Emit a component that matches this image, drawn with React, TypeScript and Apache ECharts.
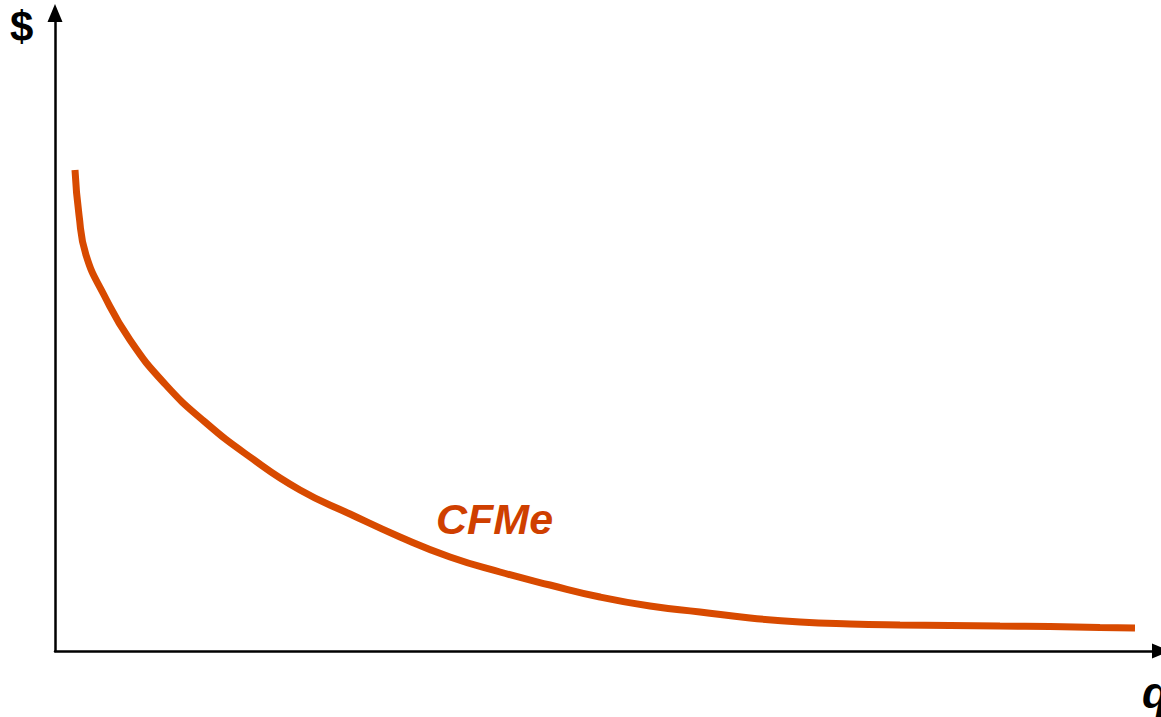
import React, { useEffect, useRef } from "react";
import * as echarts from "echarts";

// Quantity (q) positions and average fixed cost (CFMe) values
const qValues = [20, 24, 31, 49, 75, 110, 150, 195, 245, 295, 345, 395, 445, 495, 545, 595, 645, 695, 745, 795, 845, 895, 945, 995, 1045, 1080];
const cfmeValues = [481, 436, 396, 356, 311, 267, 229, 194, 161, 137, 114, 94, 79, 66, 54, 45, 39, 33, 29, 27, 26, 25.5, 25, 24.5, 23.5, 23];
const seriesName = "CFMe";
const yAxisLabel = "$";
const xAxisLabel = "q";

export default function App() {
  const ref = useRef<HTMLDivElement>(null);
  useEffect(() => {
    document.body.style.margin = "0";
    const chart = echarts.init(ref.current!, null, { renderer: "svg" });
    const curveColor = "#D84A00";
    const axisLine = {
      show: true,
      lineStyle: { color: "#000", width: 2.5 },
      symbol: ["none", "triangle"],
      symbolSize: [15, 18],
    };
    chart.setOption({
      animation: false,
      grid: { left: 55, right: 0, top: 13, bottom: 66 },
      xAxis: {
        type: "value",
        min: 0,
        max: 1106,
        axisLine,
        axisTick: { show: false },
        axisLabel: { show: false },
        splitLine: { show: false },
      },
      yAxis: {
        type: "value",
        min: 0,
        max: 638,
        axisLine,
        axisTick: { show: false },
        axisLabel: { show: false },
        splitLine: { show: false },
      },
      series: [
        {
          name: seriesName,
          type: "line",
          smooth: true,
          showSymbol: false,
          data: qValues.map((q, i) => [q, cfmeValues[i]]),
          lineStyle: { color: curveColor, width: 7, cap: "butt" },
        },
      ],
      graphic: [
        {
          type: "text",
          left: 10,
          top: 5,
          style: { text: yAxisLabel, font: "bold 42px 'Liberation Sans', Arial, sans-serif", fill: "#000" },
        },
        {
          type: "text",
          left: 1142,
          top: 670,
          style: { text: xAxisLabel, font: "italic bold 44px 'Liberation Sans', Arial, sans-serif", fill: "#000" },
        },
        {
          type: "text",
          left: 436,
          top: 497,
          style: { text: seriesName, font: "italic bold 43px 'Liberation Sans', Arial, sans-serif", fill: "#CF3F00" },
        },
      ],
    });
    return () => chart.dispose();
  }, []);
  return <div ref={ref} style={{ width: 1161, height: 717 }} />;
}
